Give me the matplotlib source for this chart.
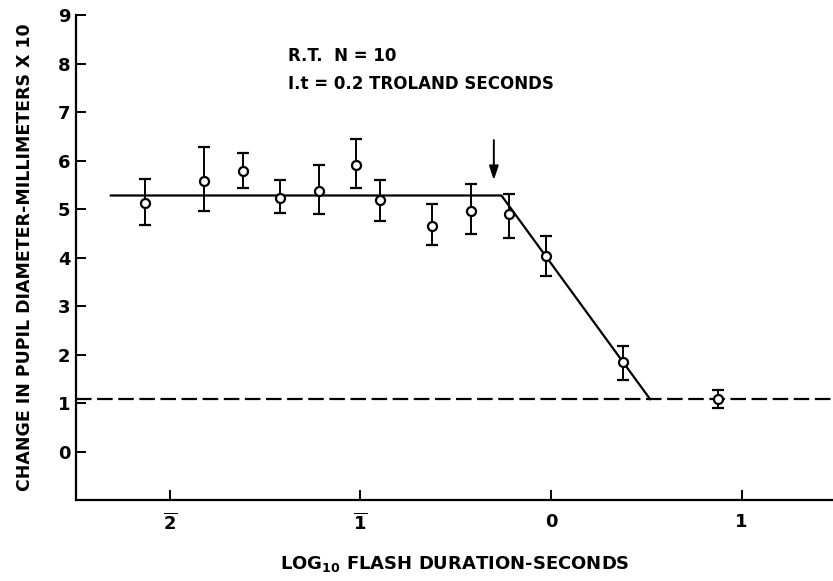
# pupil response vs flash duration (reproduction)
import matplotlib
matplotlib.use('Agg')
import matplotlib.pyplot as plt

plt.rcParams['font.family'] = ['DejaVu Sans']
plt.rcParams['mathtext.fontset'] = 'dejavusans'

# data
log_dur = [-2.13, -1.82, -1.615, -1.42, -1.22, -1.025, -0.895, -0.625, -0.42, -0.22, -0.025, 0.38, 0.875]
resp = [5.13, 5.58, 5.78, 5.23, 5.38, 5.90, 5.18, 4.66, 4.97, 4.89, 4.03, 1.84, 1.08]
err_hi = [5.61, 6.28, 6.16, 5.60, 5.90, 6.45, 5.59, 5.11, 5.51, 5.32, 4.44, 2.17, 1.27]
err_lo = [4.68, 4.97, 5.43, 4.91, 4.90, 5.44, 4.75, 4.25, 4.48, 4.41, 3.62, 1.48, 0.89]

# fitted lines
fit_x = [-2.31, -0.26, 0.52]
fit_y = [5.28, 5.28, 1.08]
baseline = 1.08
arrow_x = -0.30
arrow_top, arrow_tip = 6.48, 5.54

x_ticks = [-2, -1, 0, 1]
x_ticklabels = [r'$\mathbf{\overline{2}}$', r'$\mathbf{\overline{1}}$', '0', '1']
y_ticks = list(range(0, 10))

fig = plt.figure(figsize=(8.33, 5.81), dpi=100)
ax = fig.add_axes([0.0912, 0.1394, 0.9088, 0.8346])

ax.set_xlim(-2.493, 1.48)
ax.set_ylim(-1, 9)

# dashed baseline
ax.axhline(baseline, color='black', lw=1.6, dashes=(7, 2.5), zorder=1)
# solid fit
ax.plot(fit_x, fit_y, color='black', lw=1.6, zorder=2)

yerr = [[r - lo for r, lo in zip(resp, err_lo)], [hi - r for r, hi in zip(resp, err_hi)]]
ax.errorbar(log_dur, resp, yerr=yerr, fmt='o', ms=6.5, mfc='white', mec='black', mew=1.6,
            ecolor='black', elinewidth=1.4, capsize=4, capthick=1.4, zorder=3)

ax.annotate('', xy=(arrow_x, arrow_tip), xytext=(arrow_x, arrow_top),
            arrowprops=dict(arrowstyle='-|>,head_length=0.6,head_width=0.2', color='black',
                            lw=1.4, mutation_scale=14))

ax.text(-1.38, 8.15, 'R.T.  N = 10', fontsize=12, fontweight='bold', va='center', ha='left')
ax.text(-1.38, 7.57, 'I.t = 0.2 TROLAND SECONDS', fontsize=12, fontweight='bold',
        va='center', ha='left')

for side in ['top', 'right']:
    ax.spines[side].set_visible(False)
for side in ['left', 'bottom']:
    ax.spines[side].set_linewidth(1.6)

ax.set_xticks(x_ticks)
ax.set_xticklabels(x_ticklabels)
ax.set_yticks(y_ticks)
ax.tick_params(direction='in', length=7, width=1.4, labelsize=13)
ax.tick_params(axis='x', pad=9)
ax.tick_params(axis='y', pad=4)
for lab in ax.get_xticklabels() + ax.get_yticklabels():
    lab.set_fontweight('bold')

ax.set_xlabel(r'LOG$_{\mathbf{10}}$ FLASH DURATION-SECONDS', fontsize=13, fontweight='bold',
              labelpad=15)
ax.set_ylabel('CHANGE IN PUPIL DIAMETER-MILLIMETERS X 10', fontsize=12.5, fontweight='bold',
              labelpad=17)

fig.savefig('out.png', dpi=100)
